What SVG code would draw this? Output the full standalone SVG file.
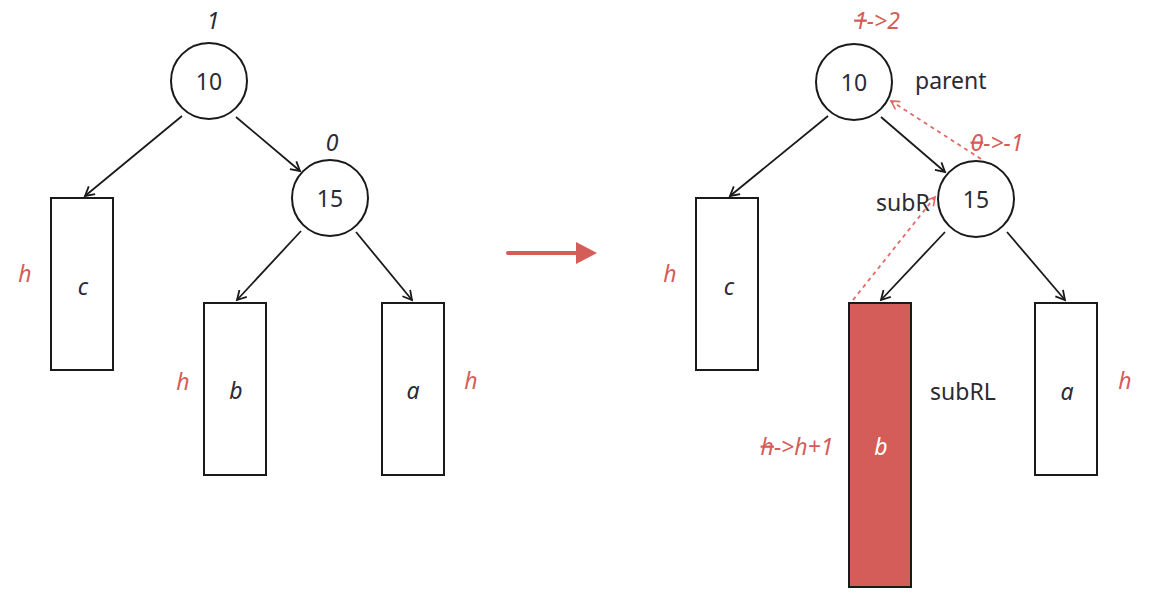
<svg xmlns="http://www.w3.org/2000/svg" width="1150" height="595" viewBox="0 0 1150 595">
<style>
.n{fill:#fff;stroke:#1a1a1a;stroke-width:2}
.t{font-family:"Noto Sans","Open Sans",sans-serif;font-size:23px;fill:#2b2b33;text-anchor:middle}
.i{font-style:italic}
.r{fill:#d45c59}
.e{stroke:#1a1a1a;stroke-width:1.8;fill:none;marker-end:url(#ah)}
.d{stroke:#e06a66;stroke-width:1.8;fill:none;stroke-dasharray:4 4;marker-end:url(#ahr)}
.s{text-decoration:line-through}
</style>
<defs>
<marker id="ah" viewBox="0 0 12 12" refX="10" refY="6" markerWidth="12" markerHeight="12" markerUnits="userSpaceOnUse" orient="auto"><path d="M1,1 L10,6 L1,11" fill="none" stroke="#1a1a1a" stroke-width="1.8"/></marker>
<marker id="ahr" viewBox="0 0 12 12" refX="10" refY="6" markerWidth="11" markerHeight="11" markerUnits="userSpaceOnUse" orient="auto"><path d="M1,1 L10,6 L1,11" fill="none" stroke="#e06a66" stroke-width="1.8"/></marker>
</defs>
<g id="connectors">
<line class="e" x1="182" y1="116" x2="85" y2="196"/>
<line class="e" x1="236" y1="117" x2="300" y2="171"/>
<line class="e" x1="301" y1="231" x2="237" y2="300"/>
<line class="e" x1="356" y1="232" x2="412" y2="300"/>
<line class="e" x1="828" y1="116" x2="730" y2="196"/>
<line class="e" x1="881" y1="117" x2="945" y2="172"/>
<line class="e" x1="945" y1="232" x2="881" y2="300"/>
<line class="e" x1="1007" y1="232" x2="1065" y2="300"/>
<line class="d" x1="981" y1="159" x2="891" y2="101"/>
<line class="d" x1="853" y1="300" x2="935" y2="197"/>
<g id="transition"><line x1="508" y1="253" x2="578" y2="253" stroke="#d45c59" stroke-width="4" stroke-linecap="round"/><polygon points="576,242 597,253 576,264" fill="#d45c59"/></g>
</g>
<g id="L10"><circle class="n" cx="209" cy="81" r="38"/><text class="t" x="209" y="90">10</text><text class="t i" x="213" y="29">1</text></g>
<g id="L15"><circle class="n" cx="330" cy="198" r="38"/><text class="t" x="330" y="207">15</text><text class="t i" x="332" y="151">0</text></g>
<g id="Lc"><rect class="n" x="51" y="198" width="62" height="172"/><text class="t i" x="83" y="295">c</text><text class="t i r" x="25" y="282">h</text></g>
<g id="Lb"><rect class="n" x="204" y="303" width="62" height="172"/><text class="t i" x="236" y="399">b</text><text class="t i r" x="183" y="390">h</text></g>
<g id="La"><rect class="n" x="382" y="303" width="62" height="172"/><text class="t i" x="413" y="399">a</text><text class="t i r" x="471" y="389">h</text></g>
<g id="R10"><circle class="n" cx="854" cy="82" r="38"/><text class="t" x="854" y="91">10</text><text class="t i r" x="877" y="29"><tspan class="s">1</tspan>-&gt;2</text><text class="t" x="915" y="89" style="text-anchor:start">parent</text></g>
<g id="R15"><circle class="n" cx="976" cy="199" r="38"/><text class="t" x="976" y="208">15</text><text class="t i r" x="997" y="151"><tspan class="s">0</tspan>-&gt;-1</text><text class="t" x="876" y="211" style="text-anchor:start">subR</text></g>
<g id="Rc"><rect class="n" x="696" y="198" width="62" height="172"/><text class="t i" x="729" y="295">c</text><text class="t i r" x="670" y="282">h</text></g>
<g id="Rb"><rect x="849" y="303" width="62" height="284" fill="#d45c59" stroke="#1a1a1a" stroke-width="2"/><text class="t i" x="881" y="455" style="fill:#fff">b</text><text class="t i r" x="797" y="455"><tspan class="s">h</tspan>-&gt;h+1</text><text class="t" x="930" y="400" style="text-anchor:start">subRL</text></g>
<g id="Ra"><rect class="n" x="1035" y="303" width="62" height="172"/><text class="t i" x="1067" y="400">a</text><text class="t i r" x="1125" y="389">h</text></g>
</svg>
